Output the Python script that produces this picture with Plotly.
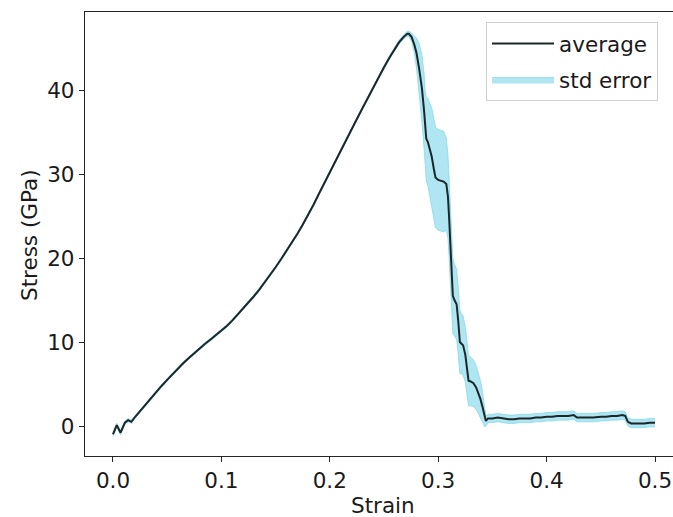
import plotly.graph_objects as go

# ---- data ----
strain = [0.000, 0.0035, 0.007, 0.011, 0.014, 0.017, 0.0205, 0.025, 0.030, 0.035,
          0.040, 0.045, 0.050, 0.055, 0.060, 0.065, 0.070, 0.075, 0.080, 0.085,
          0.090, 0.095, 0.100, 0.105, 0.110, 0.115, 0.120, 0.125, 0.130, 0.135,
          0.140, 0.145, 0.150, 0.155, 0.160, 0.165, 0.170, 0.175, 0.180, 0.185,
          0.190, 0.195, 0.200, 0.205, 0.210, 0.215, 0.220, 0.225, 0.230, 0.235,
          0.240, 0.245, 0.250, 0.255, 0.260, 0.264, 0.268, 0.2715, 0.273, 0.2755,
          0.278, 0.280, 0.2825, 0.285, 0.287, 0.288, 0.289, 0.2905, 0.292, 0.294,
          0.296, 0.2975, 0.300, 0.3025, 0.305, 0.3075, 0.309, 0.310, 0.311, 0.312,
          0.3125, 0.3135, 0.315, 0.317, 0.3185, 0.320, 0.3215, 0.323, 0.325, 0.3265,
          0.328, 0.330, 0.3325, 0.335, 0.3375, 0.339, 0.341, 0.343, 0.344, 0.346,
          0.350, 0.355, 0.360, 0.365, 0.370, 0.375, 0.380, 0.385, 0.390, 0.395,
          0.400, 0.405, 0.410, 0.415, 0.420, 0.425, 0.428, 0.435, 0.443, 0.450,
          0.455, 0.460, 0.465, 0.470, 0.4725, 0.475, 0.478, 0.485, 0.490, 0.495,
          0.500]

stress_avg = [-1.0, 0.1, -0.8, 0.4, 0.7, 0.5, 1.1, 1.8, 2.5, 3.3,
              4.1, 4.8, 5.5, 6.2, 6.9, 7.5, 8.1, 8.7, 9.25, 9.8,
              10.3, 10.8, 11.3, 11.9, 12.55, 13.25, 13.95, 14.7, 15.45, 16.25,
              17.1, 18.0, 18.9, 19.85, 20.8, 21.8, 22.85, 23.95, 25.1, 26.35,
              27.65, 28.95, 30.25, 31.55, 32.8, 34.05, 35.3, 36.55, 37.8, 39.05,
              40.3, 41.5, 42.7, 43.85, 44.95, 45.7, 46.3, 46.7, 46.7, 46.3,
              45.4, 44.4, 42.5, 40.2, 37.5, 35.0, 34.2, 33.8, 33.0, 32.1,
              30.6, 29.6, 29.3, 29.2, 29.1, 28.8, 27.3, 25.0, 22.5, 19.8,
              17.8, 15.5, 15.0, 14.5, 12.5, 10.0, 9.8, 9.6, 8.5, 6.5,
              5.4, 5.3, 5.1, 4.6, 3.8, 3.2, 2.2, 0.9, 0.6, 0.9,
              0.9, 1.0, 0.9, 0.8, 0.8, 0.9, 0.9, 0.9, 1.0, 1.0,
              1.1, 1.1, 1.2, 1.2, 1.2, 1.3, 1.0, 1.0, 1.0, 1.1,
              1.1, 1.2, 1.2, 1.3, 1.2, 0.5, 0.3, 0.3, 0.3, 0.4,
              0.4]

stress_err = [0.25, 0.25, 0.25, 0.2, 0.2, 0.2, 0.15, 0.15, 0.15, 0.15,
              0.15, 0.15, 0.15, 0.15, 0.15, 0.15, 0.15, 0.15, 0.15, 0.15,
              0.15, 0.15, 0.15, 0.15, 0.15, 0.15, 0.15, 0.15, 0.15, 0.15,
              0.15, 0.15, 0.15, 0.15, 0.15, 0.15, 0.15, 0.15, 0.15, 0.15,
              0.15, 0.15, 0.15, 0.15, 0.15, 0.15, 0.15, 0.15, 0.15, 0.15,
              0.15, 0.15, 0.2, 0.2, 0.2, 0.25, 0.25, 0.3, 0.3, 0.5,
              1.0, 1.8, 3.0, 4.0, 4.5, 4.8, 5.0, 5.2, 5.5, 5.8,
              6.0, 6.0, 6.0, 6.0, 6.0, 5.5, 5.0, 4.8, 4.6, 4.5,
              4.5, 4.5, 4.3, 4.2, 4.0, 3.8, 3.6, 3.5, 3.3, 3.1,
              3.0, 2.9, 2.8, 2.6, 2.4, 2.2, 1.8, 1.0, 0.6, 0.5,
              0.5, 0.5, 0.5, 0.5, 0.5, 0.5, 0.5, 0.5, 0.5, 0.5,
              0.5, 0.5, 0.5, 0.5, 0.5, 0.5, 0.5, 0.5, 0.5, 0.5,
              0.5, 0.5, 0.5, 0.5, 0.5, 0.5, 0.5, 0.5, 0.5, 0.5,
              0.5]

x_ticks = [0.0, 0.1, 0.2, 0.3, 0.4, 0.5]
x_tick_labels = ["0.0", "0.1", "0.2", "0.3", "0.4", "0.5"]
y_ticks = [0, 10, 20, 30, 40]
y_tick_labels = ["0", "10", "20", "30", "40"]

lower = [m - e for m, e in zip(stress_avg, stress_err)]
upper = [m + e for m, e in zip(stress_avg, stress_err)]

FONT = "DejaVu Sans"
FS = 21.5
BAND = "rgba(110,210,230,0.55)"
BAND_EDGE = "rgba(110,210,230,0.75)"
LINE = "#1c2729"
AX = "#262626"

fig = go.Figure()
fig.add_trace(go.Scatter(x=strain, y=lower, mode="lines",
                         line=dict(color=BAND_EDGE, width=0.8),
                         showlegend=False, hoverinfo="skip"))
fig.add_trace(go.Scatter(x=strain, y=upper, mode="lines", fill="tonexty",
                         fillcolor=BAND, line=dict(color=BAND_EDGE, width=0.8),
                         name="std error", legendrank=2, legendgroup="b"))
fig.add_trace(go.Scatter(x=strain, y=stress_avg, mode="lines",
                         line=dict(color=LINE, width=2),
                         name="average", legendrank=1, legendgroup="a"))

fig.update_layout(
    width=673, height=517,
    margin=dict(l=85, r=0, t=12, b=61),
    paper_bgcolor="white", plot_bgcolor="white",
    font=dict(family=FONT, size=FS, color="#1a1a1a"),
    showlegend=True,
    legend=dict(x=(486 - 85) / 588, y=1 - (22 - 12) / 444, xanchor="left", yanchor="top",
                bgcolor="rgba(255,255,255,0.85)", bordercolor="#d0d0d0", borderwidth=1,
                font=dict(family=FONT, size=FS, color="#1a1a1a"),
                tracegroupgap=5, itemwidth=62, traceorder="grouped"),
    xaxis=dict(range=[-0.0258, 0.5166], tickvals=x_ticks, ticktext=x_tick_labels,
               showgrid=False, zeroline=False, showline=True, linecolor=AX, linewidth=1.3,
               mirror=True, ticks="outside", ticklen=5, tickwidth=1.3, tickcolor=AX,
               tickfont=dict(family=FONT, size=FS, color="#1a1a1a")),
    yaxis=dict(range=[-3.57, 49.29], tickvals=y_ticks, ticktext=y_tick_labels,
               showgrid=False, zeroline=False, showline=True, linecolor=AX, linewidth=1.3,
               ticks="outside", ticklen=5, tickwidth=1.3, tickcolor=AX,
               tickfont=dict(family=FONT, size=FS, color="#1a1a1a")),
    annotations=[
        dict(text="Strain", xref="paper", yref="paper", x=(383 - 85) / 588, y=(456 - 505) / 444,
             xanchor="center", yanchor="middle", showarrow=False,
             font=dict(family=FONT, size=FS, color="#1a1a1a")),
        dict(text="Stress (GPa)", xref="paper", yref="paper", x=(29 - 85) / 588, y=(456 - 235) / 444,
             xanchor="center", yanchor="middle", showarrow=False, textangle=-90,
             font=dict(family=FONT, size=FS, color="#1a1a1a")),
    ],
)

fig.write_html("out.html")
